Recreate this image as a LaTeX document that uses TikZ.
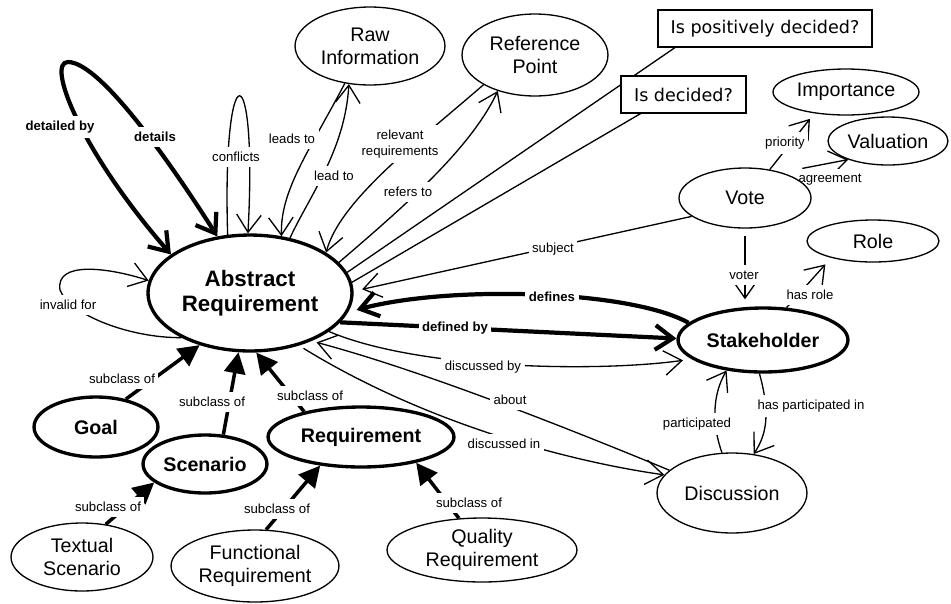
\documentclass[tikz,border=0pt]{standalone}
\usepackage{fontspec}
\setmainfont{Liberation Sans}
\newfontfamily\boxfont{DejaVu Sans}
\usetikzlibrary{shapes.geometric,arrows.meta,backgrounds}
\tikzset{
  wh/.style 2 args={minimum width=#1*0.04cm,minimum height=#2*0.04cm},
  cls/.style={ellipse,draw,fill=white,line width=0.75pt,inner sep=0pt,align=center,font=\fontsize{11.2}{13}\selectfont},
  kcls/.style={cls,line width=1.9pt,font=\bfseries\fontsize{11.2}{13}\selectfont},
  ask/.style={rectangle,draw,fill=white,line width=0.75pt,inner sep=0pt,font=\boxfont\fontsize{10}{12}\selectfont},
  lbl/.style={fill=white,inner xsep=2pt,inner ysep=3pt,align=center,font=\fontsize{7.5}{9}\selectfont},
  blbl/.style={lbl,font=\bfseries\fontsize{7.5}{9}\selectfont},
  rel/.style={line width=0.75pt,->},
  strong/.style={line width=2.4pt,->},
  isa/.style={line width=2pt,-{Triangle[length=12pt,width=12pt]}},
  >={Straight Barb[length=10pt,width=14pt]}
}

\begin{document}
\begin{tikzpicture}[x=0.02cm,y=-0.02cm]
\useasboundingbox (0,0) rectangle (951,603);
% classes
\node[kcls,wh={102}{58},font=\bfseries\fontsize{12.7}{14}\selectfont] (ar) at (250,293) {Abstract\\Requirement};
\node[cls,wh={75}{39}] (raw) at (370,46) {Raw\\Information};
\node[cls,wh={73}{41}] (refp) at (535,55) {Reference\\Point};
\node[ask,wh={107}{18.5}] (pd) at (765,28.5) {Is positively decided?};
\node[ask,wh={62.5}{18.5}] (idc) at (683.5,94.5) {Is decided?};
\node[cls,wh={73}{23}] (imp) at (846,92) {Importance};
\node[cls,wh={60}{24}] (val) at (888,141) {Valuation};
\node[cls,wh={66}{30}] (vote) at (745,198) {Vote};
\node[cls,wh={66}{21}] (role) at (873,241) {Role};
\node[kcls,wh={85}{32}] (sh) at (763,340) {Stakeholder};
\node[cls,wh={75}{40}] (disc) at (732,493) {Discussion};
\node[kcls,wh={62}{30}] (goal) at (96,427) {Goal};
\node[kcls,wh={62}{29}] (scen) at (205,464) {Scenario};
\node[kcls,wh={93}{30}] (req) at (361,437) {Requirement};
\node[cls,wh={71}{34}] (tscen) at (82,557) {Textual\\Scenario};
\node[cls,wh={84}{36}] (freq) at (255,566) {Functional\\Requirement};
\node[cls,wh={95}{32}] (qreq) at (482,550) {Quality\\Requirement};

\begin{pgfonlayer}{background}
% loops
\draw[strong,<->] (ar.154) .. controls (80,150) and (46,62) .. (68,62) .. controls (100,62) and (170,162) .. (ar.120)
  node[blbl] at (60,127) {detailed by} node[blbl] at (155,137) {details};
\draw[rel] (ar.111) .. controls (222,50) and (258,50) .. (ar.92) node[lbl] at (236,157) {conflicts};
\draw[rel] (ar.213) .. controls (130,338) and (70,315) .. (60,290) .. controls (55,260) and (110,268) .. (ar.173)
  node[lbl] at (68,305) {invalid for};
% information
\draw[rel] (raw.236) .. controls (310,150) and (280,190) .. (ar.61) node[lbl] at (292,139) {leads to};
\draw[rel] (ar.54) .. controls (310,195) and (345,150) .. (raw.241) node[lbl] at (334,176) {lead to};
\draw[rel] (refp.210) .. controls (420,140) and (340,200) .. (ar.28) node[lbl] at (400,144) {relevant\\requirements};
\draw[rel] (ar.19) .. controls (400,210) and (470,150) .. (refp.224) node[lbl] at (408,192) {refers to};
\draw[line width=0.75pt] (ar.12) -- (pd.192);
\draw[line width=0.75pt] (ar.6) -- (idc.204);
% stakeholders
\draw[rel,shorten >=5pt] (vote.199) -- (ar.1) node[lbl] at (553,249) {subject};
\draw[strong,shorten >=5pt] (sh.167) .. controls (630,290) and (450,285) .. (ar.-11) node[blbl] at (552,297) {defines};
\draw[strong] (ar.-18) -- (sh.179) node[blbl] at (455,328) {defined by};
\draw[rel,shorten >=5pt] (ar.-26) .. controls (420,370) and (600,372) .. (sh.195) node[lbl] at (483,367) {discussed by};
\draw[rel,shorten >=3pt] (disc.160) .. controls (560,425) and (420,370) .. (ar.-38) node[lbl] at (510,400) {about};
\draw[rel,shorten <=3pt] (ar.-47) .. controls (420,420) and (560,460) .. (disc.165) node[lbl] at (504,444) {discussed in};
\draw[rel] (disc.104) .. controls (712,425) and (712,395) .. (sh.220) node[lbl] at (697,424) {participated};
\draw[rel] (sh.264) .. controls (768,405) and (770,430) .. (disc.61) node[lbl] at (811,406) {has participated in};
\draw[rel,shorten <=4pt,shorten >=4pt] (vote.south) -- (vote.south |- sh.north) node[lbl] at (744,275) {voter};
\draw[rel,shorten >=5pt] (sh.54) -- (role.202) node[lbl] at (810,295) {has role};
\draw[rel,shorten >=4pt] (vote.49) -- (imp.214) node[lbl] at (785,143) {priority};
\draw[rel,shorten <=12pt] (vote.35) -- (val.205) node[lbl] at (830,180) {agreement};
% subclasses
\draw[isa] (goal.43) -- (ar.226) node[lbl] at (122,379) {subclass of};
\draw[isa] (scen.58) -- (ar.259) node[lbl] at (212,402) {subclass of};
\draw[isa] (req.156) -- (ar.276) node[lbl] at (310,396) {subclass of};
\draw[isa] (tscen.54) -- (scen.200) node[lbl] at (108,507) {subclass of};
\draw[isa] (freq.73) -- (req.215) node[lbl] at (277,509) {subclass of};
\draw[isa] (qreq.126) -- (req.-25) node[lbl] at (469,503) {subclass of};
\end{pgfonlayer}
\end{tikzpicture}
\end{document}
